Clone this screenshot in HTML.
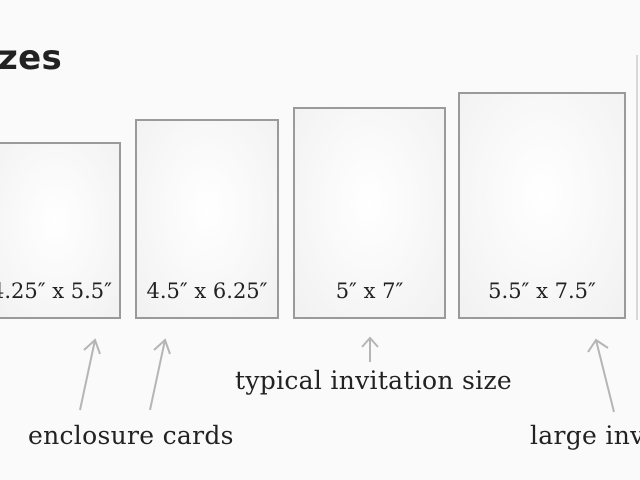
<!DOCTYPE html>
<html><head><style>
body{margin:0;width:640px;height:480px;background:#fafafa;overflow:hidden;position:relative;font-family:"DejaVu Serif","Liberation Serif",serif;}
#wrap{position:absolute;left:0;top:0;width:640px;height:480px;overflow:hidden;}
.card{position:absolute;border:2px solid #9a9a9a;box-sizing:border-box;background:radial-gradient(ellipse at 50% 45%,#fff 0%,#f9f9f9 45%,#f1f1f1 100%);overflow:hidden;}
.lbl{position:absolute;left:-20px;right:-20px;bottom:14px;text-align:center;font-size:21px;color:#222;white-space:nowrap;}
.t{position:absolute;font-size:25px;color:#222;white-space:nowrap;letter-spacing:0.3px;}
</style></head><body><div id="wrap">
<div class="t" style="left:-2px;top:38px;font-size:34px;font-weight:bold;font-family:'DejaVu Sans','Liberation Sans',sans-serif;">zes</div>
<div style="position:absolute;left:636px;top:55px;width:2px;height:265px;background:#d8d8d8"></div>
<div class="card" style="left:-10px;top:142px;width:131px;height:177px"><div class="lbl" style="left:-20px;right:-12px">4.25″ x 5.5″</div></div>
<div class="card" style="left:135px;top:119px;width:144px;height:200px"><div class="lbl">4.5″ x 6.25″</div></div>
<div class="card" style="left:293px;top:107px;width:153px;height:212px"><div class="lbl">5″ x 7″</div></div>
<div class="card" style="left:458px;top:92px;width:168px;height:227px"><div class="lbl">5.5″ x 7.5″</div></div>
<svg width="640" height="480" style="position:absolute;left:0;top:0" fill="none" stroke="#b5b5b5" stroke-width="2">
<path d="M80 410 L95 340 M84 350 L95 340 L100 354"/>
<path d="M150 410 L165 340 M154 350 L165 340 L170 354"/>
<path d="M370 362 L370 338 M362 347 L370 338 L378 347"/>
<path d="M614 412 L596 340 M588 352 L596 340 L608 348"/>
</svg>
<div class="t" style="left:235px;top:366px">typical invitation size</div>
<div class="t" style="left:28px;top:421px">enclosure cards</div>
<div style="position:absolute;left:530px;top:421px;width:110px;height:40px;overflow:hidden"><div class="t" style="left:0;top:0">large invitation</div></div>
</div></body></html>
